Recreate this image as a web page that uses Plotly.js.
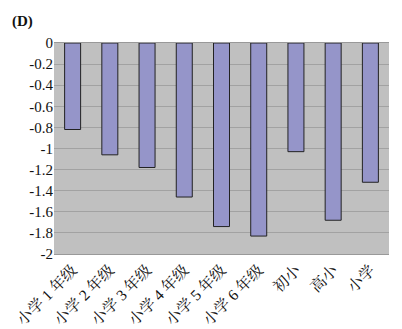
<!DOCTYPE html>
<html><head><meta charset="utf-8">
<script src="https://cdn.plot.ly/plotly-3.0.1.min.js"></script>
<style>html,body{margin:0;padding:0;background:#fff}#c{width:402px;height:329px}</style>
</head><body><div id="c"></div>
<script>
const categories = ["小学 1 年级","小学 2 年级","小学 3 年级","小学 4 年级","小学 5 年级","小学 6 年级","初小","高小","小学"];
const values = [-0.82, -1.06, -1.18, -1.46, -1.74, -1.83, -1.03, -1.68, -1.32];
const yTicks = [0,-0.2,-0.4,-0.6,-0.8,-1,-1.2,-1.4,-1.6,-1.8,-2];
const fam = "Liberation Serif, Noto Serif CJK SC, Noto Sans CJK SC, serif";
Plotly.newPlot("c", [{
  type: "bar", x: categories, y: values,
  marker: {color: "#9595c9", line: {color: "#222", width: 1}},
  width: 0.43
}], {
  width: 402, height: 329,
  margin: {l: 54, r: 13, t: 43, b: 75},
  paper_bgcolor: "#fff", plot_bgcolor: "#c0c0c0",
  showlegend: false,
  xaxis: {tickangle: -45, tickfont: {family: fam, size: 15.5, color: "#111"}, showgrid: false, zeroline: false,
          showline: true, linecolor: "#999", mirror: true, ticks: ""},
  yaxis: {range: [-2, 0], tickvals: yTicks, ticktext: yTicks.map(String), tickfont: {family: fam, size: 15, color: "#111"},
          gridcolor: "#a2a2a2", zeroline: false, showline: false, ticks: "", ticklen: 0},
  annotations: [{text: "<b>(D)</b>", xref: "paper", yref: "paper", x: -0.13, y: 1.05, xanchor: "left", yanchor: "bottom",
                 showarrow: false, font: {family: fam, size: 15, color: "#111"}}]
}, {displayModeBar: false, staticPlot: true});
</script></body></html>
